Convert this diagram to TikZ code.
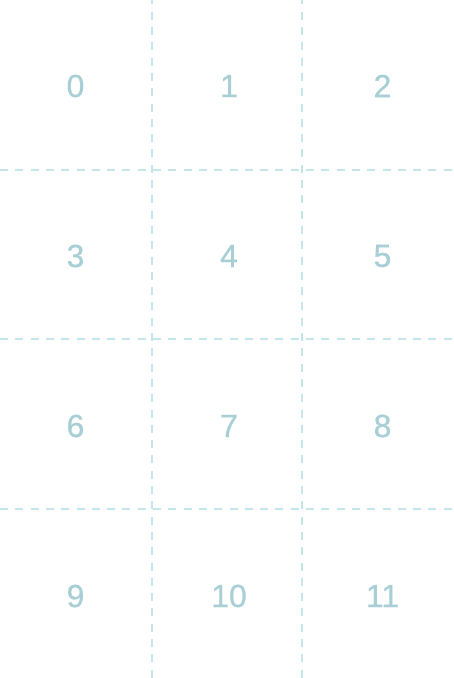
\documentclass[tikz,border=0pt]{standalone}
\usepackage{fontspec}
\setmainfont{Liberation Sans}
\definecolor{gridc}{HTML}{C4E6EA}
\definecolor{numc}{HTML}{A8CFD5}
\begin{document}
\begin{tikzpicture}[x=1pt,y=-1pt,
  gridline/.style={gridc,line width=1.6pt,dash pattern=on 8pt off 7.3pt},
  num/.style={numc,font=\fontsize{32}{32}\selectfont,inner sep=0pt,anchor=center}]
\useasboundingbox[fill=white] (0,0) rectangle (453,678);
\coordinate (v1t) at (152,0); \coordinate (v1b) at (152,678);
\coordinate (v2t) at (302,0); \coordinate (v2b) at (302,678);
\coordinate (h1l) at (0,170) ; \coordinate (h1r) at (453,170);
\coordinate (h2l) at (0,339); \coordinate (h2r) at (453,339);
\coordinate (h3l) at (0,509); \coordinate (h3r) at (453,509);
\draw[gridline,dash phase=3.6pt] (v1t) -- (v1b);
\draw[gridline,dash phase=3.6pt] (v2t) -- (v2b);
\draw[gridline] (h1l) -- (h1r);
\draw[gridline] (h2l) -- (h2r);
\draw[gridline] (h3l) -- (h3r);
\foreach \r in {0,1,2,3}{
  \foreach \c in {0,1,2}{
    \pgfmathtruncatemacro{\n}{\r*3+\c}
    \node[num] (n\n) at ({75.5+\c*153.5},{86+\r*170}) {\addfontfeatures{FakeBold=0.6}\n};
  }
}
\end{tikzpicture}
\end{document}
